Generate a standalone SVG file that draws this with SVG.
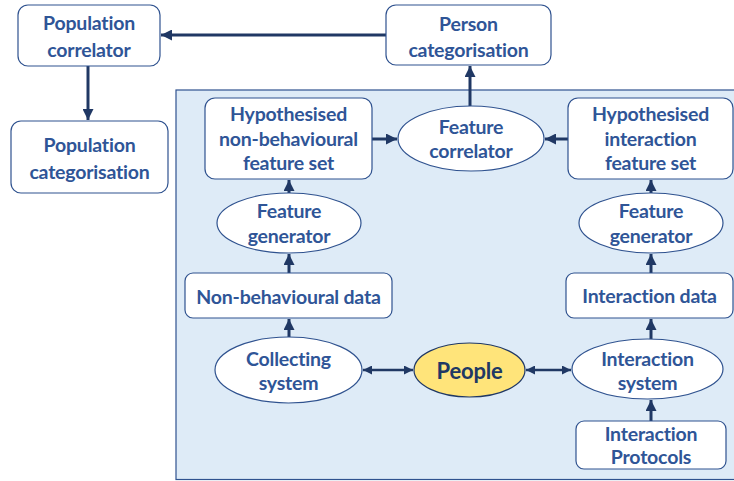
<svg xmlns="http://www.w3.org/2000/svg" width="734" height="481" viewBox="0 0 734 481">
<defs>
<marker id="ah" viewBox="0 0 10 10" refX="10" refY="5" markerWidth="11" markerHeight="11" markerUnits="userSpaceOnUse" orient="auto-start-reverse">
<path d="M0,0 L10,5 L0,10 z" fill="#203864"/>
</marker>
<marker id="ahs" viewBox="0 0 10 10" refX="10" refY="5" markerWidth="9" markerHeight="9" markerUnits="userSpaceOnUse" orient="auto-start-reverse">
<path d="M0,0 L10,5 L0,10 z" fill="#203864"/>
</marker>
</defs>
<style>
.box{fill:#ffffff;stroke:#2F528F;stroke-width:1.2}
.ppl{fill:#FFE47A;stroke:#203864;stroke-width:1.2}
.t{font-family:Lato,"Liberation Sans",sans-serif;font-weight:bold;font-size:19.5px;letter-spacing:-0.2px;fill:#2F5597;text-anchor:middle}
.big{font-size:22px;fill:#203864}
.c{stroke:#203864;stroke-width:3;fill:none;marker-end:url(#ah)}
.d{stroke:#203864;stroke-width:2.5;fill:none;marker-end:url(#ahs);marker-start:url(#ahs)}
</style>
<rect width="734" height="481" fill="#ffffff"/>
<rect id="panel" x="176" y="90" width="562" height="389.5" fill="#DEEBF7" stroke="#2F528F" stroke-width="1.2"/>

<g id="connectors">
<line class="c" x1="387" y1="35" x2="161" y2="35"/>
<line class="c" x1="88" y1="66" x2="88" y2="120"/>
<line class="c" x1="470" y1="106" x2="470" y2="66"/>
<line class="c" x1="372" y1="139" x2="397" y2="139"/>
<line class="c" x1="568" y1="139" x2="545" y2="139"/>
<line class="c" x1="289" y1="193" x2="289" y2="180"/>
<line class="c" x1="289" y1="273" x2="289" y2="254"/>
<line class="c" x1="289" y1="337" x2="289" y2="319"/>
<line class="c" x1="651" y1="193" x2="651" y2="180"/>
<line class="c" x1="651" y1="273" x2="651" y2="254"/>
<line class="c" x1="651" y1="339" x2="651" y2="319"/>
<line class="c" x1="651" y1="421" x2="651" y2="400"/>
<line class="d" x1="363" y1="370" x2="413" y2="370"/>
<line class="d" x1="526" y1="370" x2="571" y2="370"/>
</g>

<g id="pop-correlator">
<rect class="box" x="18" y="5" width="142" height="61" rx="10"/>
<text class="t" x="89" y="30">Population</text>
<text class="t" x="89" y="56.5">correlator</text>
</g>
<g id="pop-categorisation">
<rect class="box" x="11" y="121" width="157" height="72" rx="10"/>
<text class="t" x="89.5" y="152">Population</text>
<text class="t" x="89.5" y="178.5">categorisation</text>
</g>
<g id="person-categorisation">
<rect class="box" x="386" y="5" width="165" height="60" rx="10"/>
<text class="t" x="468.5" y="30.5">Person</text>
<text class="t" x="468.5" y="56.5">categorisation</text>
</g>
<g id="hyp-nonbehavioural">
<rect class="box" x="205" y="98" width="167" height="81" rx="10"/>
<text class="t" x="288.5" y="121">Hypothesised</text>
<text class="t" x="288.5" y="145.5">non-behavioural</text>
<text class="t" x="288.5" y="170">feature set</text>
</g>
<g id="feature-correlator">
<ellipse class="box" cx="471" cy="138.5" rx="73" ry="32.5"/>
<text class="t" x="471" y="133.5">Feature</text>
<text class="t" x="471" y="158">correlator</text>
</g>
<g id="hyp-interaction">
<rect class="box" x="568" y="98" width="165" height="81" rx="10"/>
<text class="t" x="650.5" y="121">Hypothesised</text>
<text class="t" x="650.5" y="145.5">interaction</text>
<text class="t" x="650.5" y="170">feature set</text>
</g>
<g id="feature-generator-left">
<ellipse class="box" cx="289" cy="223" rx="72" ry="30"/>
<text class="t" x="289" y="218">Feature</text>
<text class="t" x="289" y="242.5">generator</text>
</g>
<g id="feature-generator-right">
<ellipse class="box" cx="651" cy="223" rx="72" ry="30"/>
<text class="t" x="651" y="218">Feature</text>
<text class="t" x="651" y="242.5">generator</text>
</g>
<g id="nonbehavioural-data">
<rect class="box" x="185" y="273" width="207" height="45" rx="8"/>
<text class="t" x="288.5" y="303.5">Non-behavioural data</text>
</g>
<g id="interaction-data">
<rect class="box" x="566" y="273" width="167" height="45" rx="8"/>
<text class="t" x="649.5" y="303">Interaction data</text>
</g>
<g id="collecting-system">
<ellipse class="box" cx="288.5" cy="370" rx="73.5" ry="33"/>
<text class="t" x="288.5" y="365.5">Collecting</text>
<text class="t" x="288.5" y="389.5">system</text>
</g>
<g id="people">
<ellipse class="ppl" cx="469.5" cy="370" rx="55.5" ry="27"/>
<text class="t big" x="469.5" y="378.5">People</text>
</g>
<g id="interaction-system">
<ellipse class="box" cx="647.5" cy="369" rx="75.5" ry="30"/>
<text class="t" x="647.5" y="365.5">Interaction</text>
<text class="t" x="647.5" y="389.5">system</text>
</g>
<g id="interaction-protocols">
<rect class="box" x="576" y="421" width="150" height="48" rx="8"/>
<text class="t" x="651" y="440.5">Interaction</text>
<text class="t" x="651" y="464">Protocols</text>
</g>
</svg>
